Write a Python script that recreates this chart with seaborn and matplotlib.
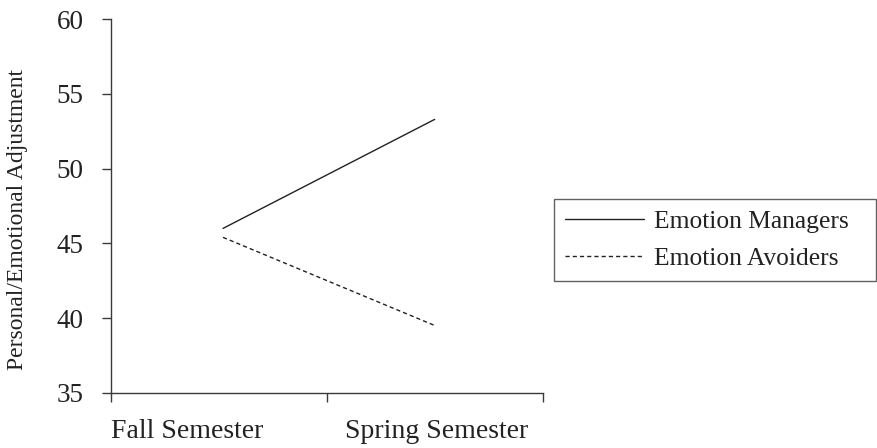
import matplotlib
matplotlib.use("Agg")
import matplotlib.pyplot as plt
from matplotlib.lines import Line2D
import seaborn as sns
import pandas as pd

semesters = ["Fall Semester", "Spring Semester"]
groups = ["Emotion Managers", "Emotion Avoiders"]
managers = [46.0, 53.3]
avoiders = [45.4, 39.5]
y_ticks = [35, 40, 45, 50, 55, 60]

x_pos = [0.52, 1.5]
df = pd.DataFrame({
    "x": x_pos * 2,
    "value": managers + avoiders,
    "group": [groups[0]] * 2 + [groups[1]] * 2,
})

sns.set_theme(style="white")
plt.rcParams["font.family"] = ["Liberation Serif", "DejaVu Serif"]

INK = "#222222"
AX = "#3a3a3a"
DASH = (3, 2.2)

fig = plt.figure(figsize=(8.77, 4.48), dpi=100)
ax = fig.add_axes([110.7 / 877, 1 - 392.7 / 448, 432 / 877, 373.4 / 448])

sns.lineplot(data=df, x="x", y="value", style="group", style_order=groups,
             dashes={groups[0]: "", groups[1]: DASH},
             color=INK, linewidth=1.0, ax=ax, legend=False)

ax.set_xlim(0, 2)
ax.set_ylim(35, 60)
ax.set_yticks(y_ticks)
ax.set_yticklabels([str(t) for t in y_ticks], fontsize=19.5, color=INK)
ax.set_xticks([0, 1, 2])
ax.set_xticklabels([])
ax.set_xticks([0.356, 1.51], minor=True)
ax.set_xticklabels(semesters, minor=True, fontsize=20, color=INK)
ax.tick_params(axis="x", which="minor", length=0, pad=19)
ax.tick_params(axis="x", which="major", direction="out", length=6.5, width=1, color=AX, bottom=True)
ax.tick_params(axis="y", direction="out", length=6.5, width=1, color=AX, left=True, pad=13)
ax.set_xlabel("")
ax.set_ylabel("Personal/Emotional Adjustment", fontsize=17, color=INK)
ax.yaxis.set_label_coords(-0.191, 0.463)
for s in ["top", "right"]:
    ax.spines[s].set_visible(False)
for s in ["left", "bottom"]:
    ax.spines[s].set_color(AX)
    ax.spines[s].set_linewidth(1.0)

handles = [Line2D([], [], color=INK, lw=1.0, linestyle="-"),
           Line2D([], [], color=INK, lw=1.0, linestyle=(0, DASH))]
x0, y_top, w = 554.3 / 877, 1 - 199.3 / 448, (875.5 - 554.3) / 877
leg = fig.legend(handles, groups, loc="upper left", bbox_to_anchor=(x0, y_top - 0.01, w, 0.01),
                 mode="expand",
                 fontsize=18.4, frameon=True, fancybox=False, handlelength=3.1, handletextpad=0.4,
                 borderpad=0.42, labelspacing=0.57, borderaxespad=0)
leg.get_frame().set_edgecolor(AX)
leg.get_frame().set_linewidth(1.0)
for t in leg.get_texts():
    t.set_color(INK)

fig.savefig("out.png", dpi=100, facecolor="white")
